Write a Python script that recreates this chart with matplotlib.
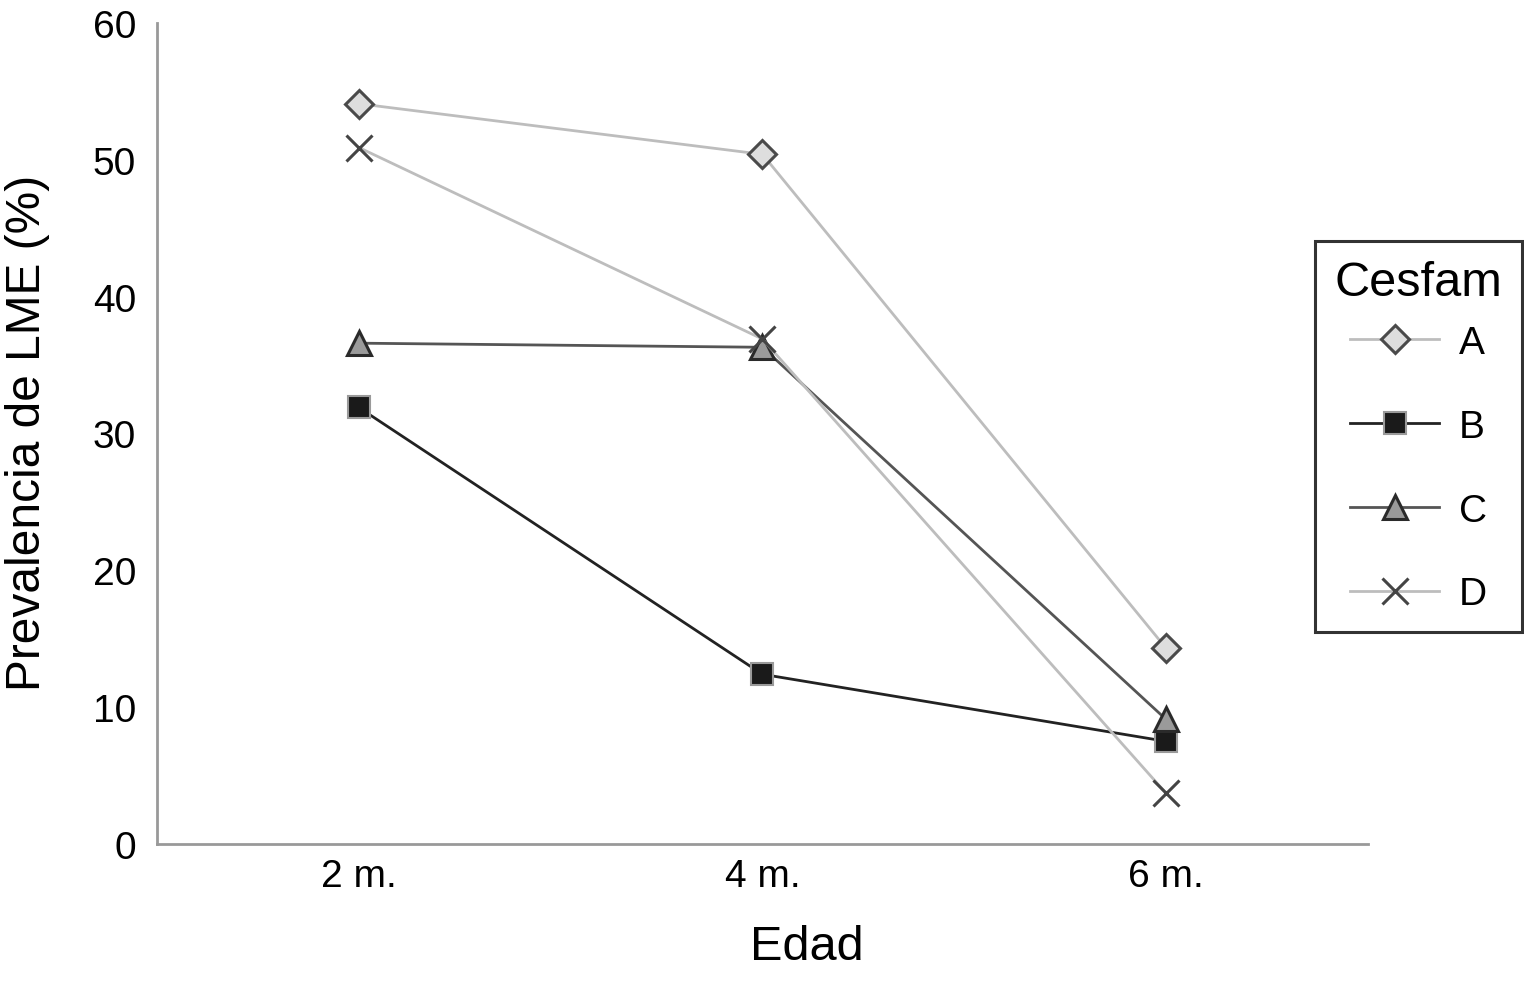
import numpy as np
import matplotlib.pyplot as plt

plt.rcParams['font.family'] = ['Liberation Sans', 'DejaVu Sans']

# Data
edades = ['2 m.', '4 m.', '6 m.']
cesfam_a = [54.1, 50.4, 14.3]
cesfam_b = [31.9, 12.4, 7.5]
cesfam_c = [36.6, 36.3, 9.1]
cesfam_d = [50.9, 36.9, 3.7]

# Style per series
series = [
    ('A', cesfam_a, dict(color='#bdbdbd', marker='D', mfc='#dedede', mec='#4a4a4a', ms=14, mew=2.2)),
    ('B', cesfam_b, dict(color='#222222', marker='s', mfc='#1a1a1a', mec='#9a9a9a', ms=16, mew=1.5)),
    ('C', cesfam_c, dict(color='#555555', marker='^', mfc='#9a9a9a', mec='#2a2a2a', ms=17, mew=2.2)),
    ('D', cesfam_d, dict(color='#bdbdbd', marker='x', mfc='none', mec='#444444', ms=19, mew=2.2)),
]

fig = plt.figure(figsize=(15.24, 9.87), dpi=100)
ax = fig.add_axes([0.103, 0.1439, 0.7946, 0.8318])

x = np.arange(1, len(edades) + 1)
for name, vals, st in series:
    ax.plot(x, vals, lw=2, label=name, **st)

ax.set_xlim(0.5, 3.5)
ax.set_ylim(0, 60)
ax.set_xticks(x)
ax.set_xticklabels(edades)
ax.set_yticks(np.arange(0, 61, 10))
ax.tick_params(length=0, labelsize=28)
ax.tick_params(axis='y', pad=15)
ax.tick_params(axis='x', pad=10)

for s in ['top', 'right']:
    ax.spines[s].set_visible(False)
for s in ['left', 'bottom']:
    ax.spines[s].set_color('#999999')
    ax.spines[s].set_linewidth(2)

# Axis titles placed in figure coordinates
fig.text(807 / 1524, 1 - 948 / 987, 'Edad', fontsize=35, ha='center', va='center')
fig.text(28 / 1524, 1 - 433 / 987, 'Prevalencia de LME (%)', fontsize=34.5,
         rotation=90, ha='center', va='center')

leg = ax.legend(title='Cesfam', loc='upper left', bbox_to_anchor=(1315 / 1524, 1 - 242 / 987),
                bbox_transform=fig.transFigure, fontsize=28, title_fontsize=35,
                frameon=True, fancybox=False, handlelength=2.3, labelspacing=1.23,
                borderpad=0.5, handletextpad=0.5, borderaxespad=0)
# tighter gap between the title and the first entry
leg._legend_box.sep = 14
leg.get_frame().set_edgecolor('black')
leg.get_frame().set_linewidth(2.2)

fig.savefig('out.png', dpi=100)
